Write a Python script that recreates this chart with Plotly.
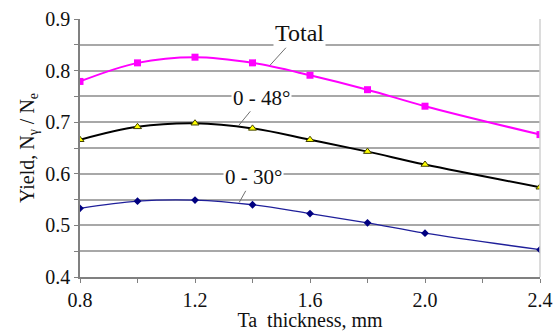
import plotly.graph_objects as go

thickness = [0.8, 1.0, 1.2, 1.4, 1.6, 1.8, 2.0, 2.4]
total = [0.779, 0.815, 0.826, 0.815, 0.791, 0.763, 0.731, 0.676]
deg48 = [0.666, 0.691, 0.698, 0.688, 0.666, 0.643, 0.618, 0.574]
deg30 = [0.533, 0.547, 0.549, 0.540, 0.523, 0.505, 0.485, 0.453]

FONT = "Liberation Serif"

fig = go.Figure()
fig.add_trace(go.Scatter(x=thickness, y=total, mode="lines+markers", name="Total",
                         line=dict(color="#ff00ff", width=2, shape="spline"),
                         marker=dict(symbol="square", size=7, color="#ff00ff")))
fig.add_trace(go.Scatter(x=thickness, y=deg48, mode="lines+markers", name="0 - 48°",
                         line=dict(color="#000000", width=2, shape="spline"),
                         marker=dict(symbol="triangle-up", size=7, color="#ffff00",
                                     line=dict(color="#404000", width=1))))
fig.add_trace(go.Scatter(x=thickness, y=deg30, mode="lines+markers", name="0 - 30°",
                         line=dict(color="#1f1f9a", width=1.3, shape="spline"),
                         marker=dict(symbol="diamond", size=6, color="#000080")))

ann_font = dict(family=FONT, size=21, color="#111111")
fig.add_annotation(x=1.461, y=0.8104, text="Total", ax=29, ay=-32, showarrow=True,
                   arrowhead=0, arrowwidth=1, arrowcolor="#707070",
                   bgcolor="white", font=dict(family=FONT, size=24, color="#111111"))
fig.add_annotation(x=1.351, y=0.693, text="0 - 48°", ax=23, ay=-28, showarrow=True,
                   arrowhead=0, arrowwidth=1, arrowcolor="#707070",
                   bgcolor="white", font=ann_font)
fig.add_annotation(x=1.354, y=0.5447, text="0 - 30°", ax=14, ay=-25, showarrow=True,
                   arrowhead=0, arrowwidth=1, arrowcolor="#707070",
                   bgcolor="white", font=ann_font)

fig.add_shape(type="line", xref="paper", yref="paper", x0=1, x1=1, y0=0, y1=1,
              line=dict(color="#d0d0d0", width=1.5))

fig.update_layout(
    width=559, height=331,
    margin=dict(l=80, r=19, t=19, b=54),
    paper_bgcolor="white", plot_bgcolor="white",
    showlegend=False,
    font=dict(family=FONT, size=20, color="#111111"),
    xaxis=dict(range=[0.8, 2.4], dtick=0.4, tick0=0.8, tickformat=".1f",
               showgrid=False, zeroline=False, automargin=False,
               showline=True, linecolor="#808080", linewidth=1.5,
               ticks="outside", ticklen=4, tickcolor="#808080",
               tickfont=dict(family=FONT, size=20),
               minor=dict(dtick=0.2, ticks="outside", ticklen=4, tickcolor="#808080"),
               title=dict(text="Ta\u00a0 thickness, mm", standoff=11,
                          font=dict(family=FONT, size=20))),
    yaxis=dict(range=[0.4, 0.9], dtick=0.1, tick0=0.4, tickformat=".1f",
               showgrid=True, gridcolor="#a8a8a8", gridwidth=1.5, zeroline=False,
               automargin=False,
               showline=True, linecolor="#808080", linewidth=1.5,
               ticks="outside", ticklen=4, tickcolor="#808080",
               tickfont=dict(family=FONT, size=20),
               minor=dict(dtick=0.05, showgrid=True, gridcolor="#a8a8a8", gridwidth=1.5,
                          ticks="outside", ticklen=4, tickcolor="#808080"),
               title=dict(text="Yield, N<sub>γ</sub> / N<sub>e</sub>", standoff=5,
                          font=dict(family=FONT, size=20))),
)

fig.write_html("out.html", config={"displayModeBar": False},
               post_script="document.body.style.margin='0';document.body.style.overflow='hidden';")
